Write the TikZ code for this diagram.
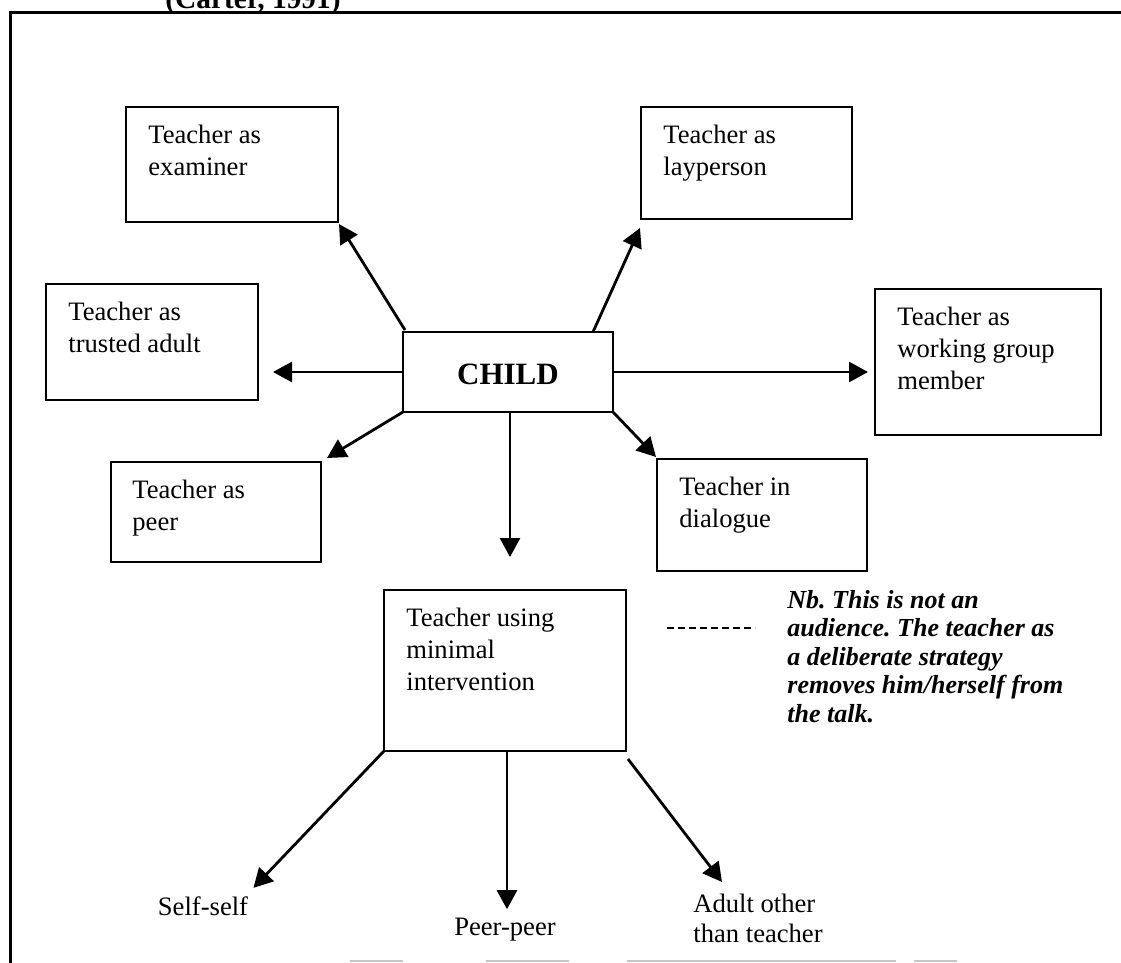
\documentclass[tikz,border=0pt]{standalone}
\usepackage{fontspec}
\setmainfont{Liberation Serif}
\usetikzlibrary{arrows.meta,calc}
\frenchspacing
\tikzset{
  box/.style={draw,line width=1.4pt,anchor=north west,inner sep=0pt,outer sep=0pt},
  boxtext/.style={anchor=north west,inner sep=0pt,align=left,font=\fontsize{13.3}{16}\selectfont},
  lbl/.style={inner sep=0pt,align=left,font=\fontsize{13.3}{15}\selectfont},
  notetext/.style={anchor=north west,inner sep=0pt,align=left,font=\fontsize{13}{14.2}\selectfont\bfseries\itshape},
  arr/.style={line width=1.4pt,-{Triangle[length=9.5pt,width=10pt]}},
  frameline/.style={line width=1.5pt},
  scanline/.style={line width=1pt,gray!45}
}
\begin{document}
\begin{tikzpicture}[x=0.5pt,y=-0.5pt]
\useasboundingbox (0,0) rectangle (1121,963);

% title, partly above the page edge, and the surrounding frame
\node[anchor=base west,inner sep=0pt,font=\fontsize{14.7}{16}\selectfont\bfseries] (title) at (165,9) {(Carter, 1991)};
\draw[frameline] (10,963) -- (10,13) -- (1121,13);
\draw[scanline] (350,961) -- (403,961);
\draw[scanline] (486,961) -- (569,961);
\draw[scanline] (627,961) -- (896,961);
\draw[scanline] (914,961) -- (957,961);

% boxes
\node[box,minimum width=106pt,minimum height=57.5pt] (exam) at (126,107) {};
\node[box,minimum width=105.5pt,minimum height=56pt] (lay) at (641,107) {};
\node[box,minimum width=106pt,minimum height=58pt] (trust) at (46,284) {};
\node[box,minimum width=105pt,minimum height=40pt] (child) at (403,332) {};
\node[box,minimum width=113pt,minimum height=73pt] (group) at (875,289) {};
\node[box,minimum width=105pt,minimum height=50pt] (peer) at (111,462) {};
\node[box,minimum width=105pt,minimum height=56pt] (dial) at (657,459) {};
\node[box,minimum width=121pt,minimum height=80.5pt] (minimal) at (384,590) {};

% box texts
\node[boxtext] at ($(exam.north west)+(22,18)$) {Teacher as\\examiner};
\node[boxtext] at ($(lay.north west)+(22,18)$) {Teacher as\\layperson};
\node[boxtext] at ($(trust.north west)+(22,18)$) {Teacher as\\trusted adult};
\node[inner sep=0pt,font=\fontsize{15.5}{17}\selectfont\bfseries] at ($(child.center)+(0,2)$) {CHILD};
\node[boxtext] at ($(group.north west)+(22,18)$) {Teacher as\\working group\\member};
\node[boxtext] at ($(peer.north west)+(21,18)$) {Teacher as\\peer};
\node[boxtext] at ($(dial.north west)+(22,18)$) {Teacher in\\dialogue};
\node[boxtext] at ($(minimal.north west)+(22,18)$) {Teacher using\\minimal\\intervention};

% note
\node[notetext] (note) at (787,590) {Nb. This is not an\\audience. The teacher as\\a deliberate strategy\\removes him/herself from\\the talk.};

% lower labels
\node[lbl,anchor=base] (self) at (203,915) {Self-self};
\node[lbl,anchor=base] (peerpeer) at (505,935) {Peer-peer};
\node[lbl,anchor=north west] (adult) at (693,894) {Adult other\\than teacher};

% connectors from CHILD
\draw[arr] ($(child.north west)+(2,-2)$) -- ($(exam.south east)+(1,2)$);
\draw[arr] ($(child.north west)+(190,0)$) -- ($(lay.south west)+(-1,9)$);
\draw[arr] (child.west) -- ($(trust.east |- child.west)+(15,0)$);
\draw[arr] (child.east) -- ($(group.west |- child.east)+(-7,0)$);
\draw[arr] (child.south west) -- ($(peer.north east)+(6,-4)$);
\draw[arr] (child.south east) -- ($(dial.north west)+(-1,-2)$);
\draw[arr] ($(child.south)+(2,0)$) -- ($(child.south)+(2,145)$);

% connectors from the minimal intervention box
\draw[arr] (minimal.south west) -- ($(self.north east)+(5,-8)$);
\draw[arr] ($(minimal.south)+(2,0)$) -- ($(peerpeer.north)+(2,-8)$);
\draw[arr] ($(minimal.south east)+(2,8)$) -- ($(adult.north west)+(29,-12)$);
\draw[line width=1.2pt,dash pattern=on 3.5pt off 2pt] ($(minimal.north east)+(41,38)$) -- ($(note.north west)+(-32,38)$);
\end{tikzpicture}
\end{document}
